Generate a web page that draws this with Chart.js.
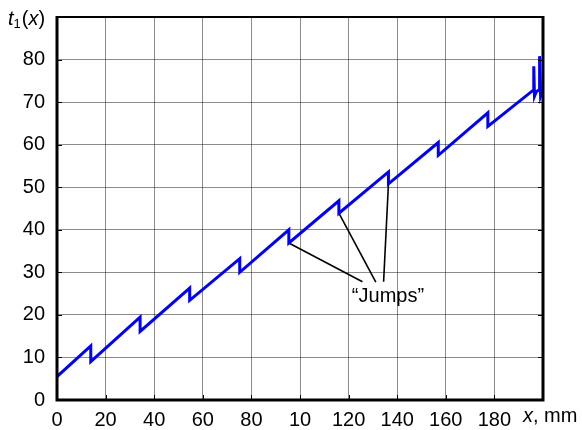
<!DOCTYPE html>
<html>
<head>
<meta charset="utf-8">
<script src="https://cdn.jsdelivr.net/npm/chart.js@4/dist/chart.umd.min.js"></script>
<style>
  html, body { margin: 0; padding: 0; background: #fff; }
  #wrap { width: 582px; height: 430px; }
</style>
</head>
<body>
<div id="wrap"><canvas id="t1-chart"></canvas></div>
<script>
// t1(x) along the part, mm -- sawtooth with the "jumps"
var xVals = [0, 13.9, 13.9, 34.2, 34.2, 54.6, 54.6, 75.2, 75.2, 95.4, 95.4,
             116.0, 116.0, 136.4, 136.4, 156.9, 156.9, 177.3, 177.3,
             196.0, 196.2, 196.5, 197.2, 198.4, 198.6, 199.0, 199.9];
var t1Vals = [5.5, 12.7, 9.0, 19.5, 16.1, 26.3, 23.4, 33.2, 30.0, 40.0, 36.9,
              46.8, 43.9, 53.6, 50.8, 60.5, 57.5, 67.5, 64.3,
              72.8, 78.4, 71.4, 72.4, 72.9, 80.8, 71.4, 72.9];

// pointer lines from the "Jumps" note to three of the jumps
var jumpX = [95.4, 116.0, 136.4];
var jumpY = [36.9, 43.9, 50.8];
var noteX = [125.7, 131.2, 134.4];
var noteY = [27.8, 27.7, 27.8];

var xTickLabels = ['0', '20', '40', '60', '80', '10', '120', '140', '160', '180', ''];
var yTickLabels = ['0', '10', '20', '30', '40', '50', '60', '70', '80', ''];

var FONT = 'Liberation Sans, Arial, Helvetica, sans-serif';

function toPoints(xs, ys) {
    return xs.map(function(x, i) { return {x: x, y: ys[i]}; });
}

var datasets = [{
    data: toPoints(xVals, t1Vals),
    borderColor: '#0000ff',
    borderWidth: 3,
    showLine: true,
    pointRadius: 0,
    tension: 0
}];
for (var i = 0; i < jumpX.length; i++) {
    datasets.push({
        data: toPoints([jumpX[i], noteX[i]], [jumpY[i], noteY[i]]),
        borderColor: '#000',
        borderWidth: 1.6,
        showLine: true,
        pointRadius: 0
    });
}

// box around the plot, small inner ticks and the free text
var framePlugin = {
    id: 'frame',
    afterDraw: function(chart) {
        var ctx = chart.ctx, a = chart.chartArea;
        var xs = chart.scales.x, ys = chart.scales.y;
        ctx.save();
        ctx.strokeStyle = '#000';

        ctx.lineWidth = 1;
        ctx.beginPath();
        ys.ticks.forEach(function(t) {
            var py = Math.round(ys.getPixelForValue(t.value)) + 0.5;
            ctx.moveTo(a.left, py); ctx.lineTo(a.left + 5, py);
            ctx.moveTo(a.right, py); ctx.lineTo(a.right - 5, py);
        });
        xs.ticks.forEach(function(t) {
            var px = Math.round(xs.getPixelForValue(t.value)) + 0.5;
            ctx.moveTo(px, a.bottom); ctx.lineTo(px, a.bottom - 5);
        });
        ctx.stroke();

        ctx.lineWidth = 2;
        ctx.beginPath();
        ctx.moveTo(a.left, a.top); ctx.lineTo(a.right, a.top);
        ctx.stroke();
        ctx.lineWidth = 3;
        ctx.beginPath();
        ctx.moveTo(a.left, a.top - 1); ctx.lineTo(a.left, a.bottom);
        ctx.lineTo(a.right, a.bottom); ctx.lineTo(a.right, a.top - 1);
        ctx.stroke();

        ctx.fillStyle = '#000';
        ctx.textBaseline = 'alphabetic';
        ctx.textAlign = 'left';

        // t1(x)
        var x0 = 8, base = 25;
        ctx.font = 'italic 20px ' + FONT;
        ctx.fillText('t', x0, base);
        x0 += ctx.measureText('t').width;
        ctx.font = '13px ' + FONT;
        ctx.fillText('1', x0, base + 3);
        x0 += ctx.measureText('1').width + 1;
        ctx.font = '20px ' + FONT;
        ctx.fillText('(', x0, base);
        x0 += ctx.measureText('(').width;
        ctx.font = 'italic 20px ' + FONT;
        ctx.fillText('x', x0, base);
        x0 += ctx.measureText('x').width;
        ctx.font = '20px ' + FONT;
        ctx.fillText(')', x0, base);

        // x, mm
        var x1 = 523, base2 = 422;
        ctx.font = 'italic 20px ' + FONT;
        ctx.fillText('x', x1, base2);
        x1 += ctx.measureText('x').width;
        ctx.font = '20px ' + FONT;
        ctx.fillText(', mm', x1, base2);

        // note
        ctx.textAlign = 'center';
        ctx.fillText('\u201cJumps\u201d', xs.getPixelForValue(136.2), ys.getPixelForValue(23.0));
        ctx.restore();
    }
};

var ctx = document.getElementById('t1-chart');
var chart = new Chart(ctx, {
    type: 'scatter',
    data: { datasets: datasets },
    options: {
        responsive: true,
        maintainAspectRatio: false,
        animation: false,
        layout: { padding: { top: 17, right: 39, left: 0, bottom: 0 } },
        plugins: { legend: { display: false }, tooltip: { enabled: false } },
        scales: {
            x: {
                type: 'linear',
                min: 0,
                max: 200,
                afterFit: function(scale) {
                    scale.height = 30;
                    scale.paddingLeft = 0;
                    scale.paddingRight = 0;
                },
                border: { display: false },
                grid: { color: 'rgba(0,0,0,0.45)', lineWidth: 1, drawTicks: false },
                ticks: {
                    stepSize: 20,
                    padding: 8,
                    color: '#000',
                    maxRotation: 0,
                    autoSkip: false,
                    font: { family: FONT, size: 20 },
                    callback: function(value) { return xTickLabels[Math.round(value / 20)]; }
                }
            },
            y: {
                min: 0,
                max: 90,
                afterFit: function(scale) {
                    scale.width = 57;
                    scale.paddingTop = 0;
                    scale.paddingBottom = 0;
                },
                border: { display: false },
                grid: { color: 'rgba(0,0,0,0.45)', lineWidth: 1, drawTicks: false },
                ticks: {
                    stepSize: 10,
                    padding: 12,
                    color: '#000',
                    font: { family: FONT, size: 20 },
                    callback: function(value) { return yTickLabels[Math.round(value / 10)]; }
                }
            }
        }
    },
    plugins: [framePlugin]
});
</script>
</body>
</html>
